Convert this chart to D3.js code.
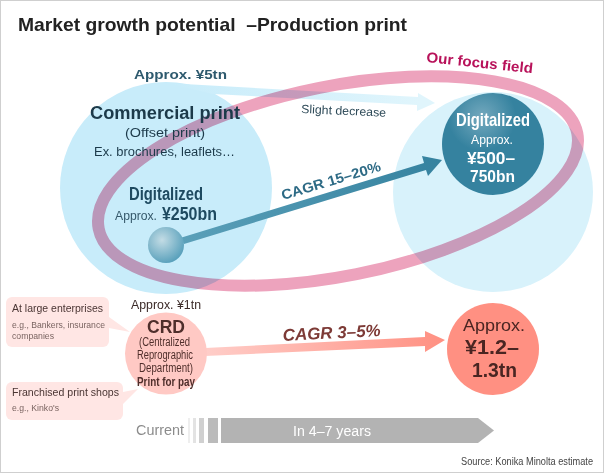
<!DOCTYPE html>
<html>
<head>
<meta charset="utf-8">
<script src="https://cdn.jsdelivr.net/npm/d3@7/dist/d3.min.js"></script>
<style>
html, body { margin: 0; padding: 0; background: #fff; }
svg { display: block; }
text { font-family: "Liberation Sans", Arial, sans-serif; }
</style>
</head>
<body>
<svg id="vis" width="604" height="473"></svg>
<script>
const titleText = "Market growth potential  –Production print"
const commercialLabels = ["Approx. ¥5tn", "Commercial print", "(Offset print)", "Ex. brochures, leaflets…"]
const digitalNowLabels = ["Digitalized", "Approx.", "¥250bn"]
const digitalNextLabels = ["Digitalized", "Approx.", "¥500–", "750bn"]
const growthLabels = ["Slight decrease", "CAGR 15–20%", "CAGR 3–5%", "Our focus field"]
const crdLabels = ["Approx. ¥1tn", "CRD", "(Centralized", "Reprographic", "Department)", "Print for pay"]
const crdNextLabels = ["Approx.", "¥1.2–", "1.3tn"]
const calloutLabels = ["At large enterprises", "e.g., Bankers, insurance", "companies", "Franchised print shops", "e.g., Kinko's"]
const timeLabels = ["Current", "In 4–7 years"]
const sourceText = "Source: Konika Minolta estimate"

const svg = d3.select("#vis")
const defs = svg.append("defs")
const line = d3.line()

const addLinear = (id, x1, y1, x2, y2, c1, c2) => {
    const g = defs.append("linearGradient").attr("id", id)
        .attr("gradientUnits", "userSpaceOnUse")
        .attr("x1", x1).attr("y1", y1).attr("x2", x2).attr("y2", y2)
    g.append("stop").attr("offset", 0).attr("stop-color", c1)
    g.append("stop").attr("offset", 1).attr("stop-color", c2)
}
const addRadial = (id, cx, cy, r, c1, c2) => {
    const g = defs.append("radialGradient").attr("id", id)
        .attr("gradientUnits", "userSpaceOnUse")
        .attr("cx", cx).attr("cy", cy).attr("r", r)
    g.append("stop").attr("offset", 0).attr("stop-color", c1)
    g.append("stop").attr("offset", 1).attr("stop-color", c2)
}
addLinear("wedge", 170, 90, 420, 100, "#c8ecfa", "#e0f5fc")
addLinear("tealArrow", 180, 240, 442, 160, "#5ba0b9", "#35829f")
addLinear("redArrow", 207, 350, 445, 340, "#ffcdc8", "#ff9082")
addRadial("sphere", 162, 240, 24, "#c3dce5", "#58a0bb")
addRadial("tealBall", 482, 117, 34, "#74a9be", "#35829f")

const poly = (pts, fill) => svg.append("path")
    .attr("d", line(pts) + "Z")
    .attr("fill", fill)
const circle = (cx, cy, r, fill) => svg.append("circle")
    .attr("cx", cx).attr("cy", cy).attr("r", r).attr("fill", fill)

// x = left edge, w = measured width of the text in the picture
const label = (str, x, y, w, size, color, opts = {}) => {
    const t = svg.append("text")
        .attr("x", x).attr("y", y)
        .attr("font-size", size)
        .attr("fill", color)
        .attr("font-weight", opts.bold ? "bold" : "normal")
        .attr("font-style", opts.italic ? "italic" : "normal")
        .attr("textLength", w)
        .attr("lengthAdjust", "spacingAndGlyphs")
        .style("white-space", "pre")
        .text(str)
    if (opts.rotate) t.attr("transform", `rotate(${opts.rotate} ${x} ${y})`)
    return t
}

// frame
svg.append("rect")
    .attr("x", 0.5).attr("y", 0.5).attr("width", 603).attr("height", 472)
    .attr("fill", "#fff").attr("stroke", "#cfcfcf")

label(titleText, 18, 31, 389, 18.5, "#222", {bold: true})

// market circles
circle(166, 188, 106, "#c8ecfa")
poly([[166, 83], [418, 97], [418, 93], [435, 103], [417, 111], [417, 105], [213, 94]], "url(#wedge)")
circle(493, 192, 100, "#d8f2fb")

// focus ring
svg.append("ellipse")
    .attr("cx", 338).attr("cy", 181)
    .attr("rx", 244).attr("ry", 95)
    .attr("transform", "rotate(-11.3 338 181)")
    .attr("fill", "none")
    .attr("stroke", "#eda3bd")
    .attr("stroke-width", 12)
    .style("mix-blend-mode", "multiply")

// digital growth arrow
poly([[180, 238], [424, 163], [422, 156], [442, 160], [428, 176], [426, 170], [184, 244]], "url(#tealArrow)")
circle(166, 245, 18, "url(#sphere)")
circle(493, 144, 51, "url(#tealBall)")

// CRD
poly([[109, 317], [130, 332], [109, 328]], "#ffe6e4")
poly([[123, 392], [138, 389], [123, 404]], "#ffe6e4")
svg.selectAll("rect.callout")
    .data([[6, 297, 103, 50], [6, 382, 117, 38]])
    .join("rect")
    .attr("class", "callout")
    .attr("x", d => d[0]).attr("y", d => d[1])
    .attr("width", d => d[2]).attr("height", d => d[3])
    .attr("rx", 6).attr("fill", "#ffe6e4")
poly([[205, 348], [425, 337], [425, 331], [445, 340], [425, 352], [425, 346], [205, 356]], "url(#redArrow)")
circle(166, 353.5, 41, "#ffc9c4")
circle(493, 349, 46, "#ff9082")

// timeline
svg.selectAll("rect.stripe")
    .data([[188, 2, "#eeeeee"], [193, 3, "#e3e3e3"], [199, 5, "#d0d0d0"], [208, 10, "#bbbbbb"]])
    .join("rect")
    .attr("class", "stripe")
    .attr("x", d => d[0]).attr("y", 418)
    .attr("width", d => d[1]).attr("height", 25)
    .attr("fill", d => d[2])
poly([[221, 418], [478, 418], [494, 430.5], [478, 443], [221, 443]], "#b3b3b3")

// text on top
const navy = "#1c3a4a"
label(commercialLabels[0], 134, 79, 93, 13, "#2e5a6e", {bold: true})
label(commercialLabels[1], 90, 119, 150, 18, navy, {bold: true})
label(commercialLabels[2], 125, 137, 80, 13, navy)
label(commercialLabels[3], 94, 156, 141, 12, navy)
label(digitalNowLabels[0], 129, 200, 74, 18, "#1e4a60", {bold: true})
label(digitalNowLabels[1], 115, 220, 42, 12, "#35586a")
label(digitalNowLabels[2], 162, 220, 55, 18, "#1e4a60", {bold: true})

label(growthLabels[0], 301, 113, 85, 12, "#2e4a58", {rotate: 2.5})
label(growthLabels[1], 283, 200, 103, 14, "#2d6a85", {bold: true, rotate: -16.6})
label(growthLabels[2], 283, 341, 98, 17, "#7d3a36", {bold: true, italic: true, rotate: -3})
label(growthLabels[3], 426, 62, 107, 14.5, "#b8125a", {bold: true, rotate: 6})

label(digitalNextLabels[0], 456, 126, 74, 18.5, "#fff", {bold: true})
label(digitalNextLabels[1], 471, 144, 42, 12, "#fff")
label(digitalNextLabels[2], 467, 164, 48, 17, "#fff", {bold: true})
label(digitalNextLabels[3], 470, 182, 45, 17, "#fff", {bold: true})

const crdInk = "#4f2e2b"
label(crdLabels[0], 131, 309, 70, 12.5, "#3b2a28")
label(crdLabels[1], 147, 333, 38, 19, crdInk, {bold: true})
label(crdLabels[2], 139, 346, 51, 12.5, crdInk)
label(crdLabels[3], 137, 359, 56, 12.5, crdInk)
label(crdLabels[4], 139, 372, 54, 12.5, crdInk)
label(crdLabels[5], 137, 386, 58, 12, crdInk, {bold: true})

label(calloutLabels[0], 12, 312, 91, 11, "#4a3533")
label(calloutLabels[1], 12, 328, 93, 9.5, "#7a6461")
label(calloutLabels[2], 12, 339, 42, 9.5, "#7a6461")
label(calloutLabels[3], 12, 396, 107, 11, "#4a3533")
label(calloutLabels[4], 12, 411, 47, 9.5, "#7a6461")

label(crdNextLabels[0], 463, 331, 62, 17, "#4a2522")
label(crdNextLabels[1], 465, 354, 54, 21, "#4a2522", {bold: true})
label(crdNextLabels[2], 472, 377, 45, 21, "#4a2522", {bold: true})

label(timeLabels[0], 136, 435, 48, 14, "#8c8c8c")
label(timeLabels[1], 293, 436, 78, 14, "#fff")
label(sourceText, 461, 465, 132, 10, "#444")
</script>
</body>
</html>
